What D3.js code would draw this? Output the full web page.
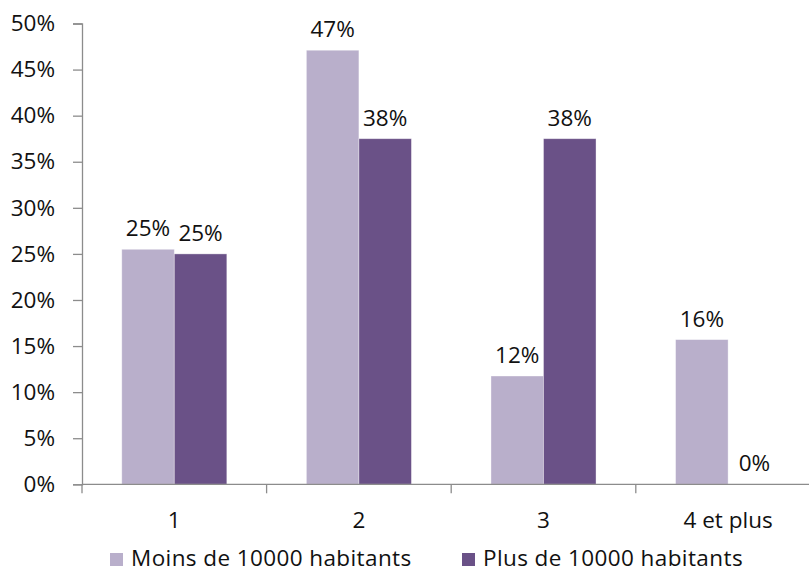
<!DOCTYPE html>
<html><head><meta charset="utf-8">
<script src="https://cdn.jsdelivr.net/npm/d3@7"></script>
<style>body{margin:0;background:#fff}svg{display:block}text{font-family:"Open Sans","Noto Sans",sans-serif;fill:#111}</style>
</head><body><svg id="c" width="809" height="573"></svg>
<script>
const categories = ["1", "2", "3", "4 et plus"];
const seriesNames = ["Moins de 10000 habitants", "Plus de 10000 habitants"];
const moins = [25.5, 47.1, 11.75, 15.7];
const plus = [25, 37.5, 37.5, 0];
const valueLabels = [["25%","47%","12%","16%"],["25%","38%","38%","0%"]];
const yTicks = [0,5,10,15,20,25,30,35,40,45,50];
const colors = ["#B9AFCB", "#6A5187"];
const FS = 22.5;

const svg = d3.select("#c");
const x0 = 82, x1 = 820.4, yTop = 23.5, yBot = 484.3;
const x = d3.scaleBand().domain(categories).range([x0, x1]);
const y = d3.scaleLinear().domain([0, 50]).range([yBot, yTop]);
const bw = x.bandwidth();
const xs = d3.scaleBand().domain([0,1]).range([bw*0.2155, bw*(1-0.2155)]);

const data = [moins, plus];
data.forEach((vals, s) => {
  svg.append("g").selectAll("rect").data(vals).join("rect")
    .attr("x", (d,i) => x(categories[i]) + xs(s))
    .attr("width", xs.bandwidth())
    .attr("y", d => y(d))
    .attr("height", d => yBot - y(d))
    .attr("fill", colors[s])
    .attr("stroke", "rgba(255,255,255,0.45)")
    .attr("stroke-width", 0.8);
  svg.append("g").selectAll("text").data(vals).join("text")
    .attr("x", (d,i) => x(categories[i]) + xs(s) + xs.bandwidth()/2)
    .attr("y", d => y(d) - 13)
    .attr("text-anchor", "middle")
    .attr("font-size", FS)
    .text((d,i) => valueLabels[s][i]);
});

const yAxis = d3.axisLeft(y).tickValues(yTicks).tickFormat(d => d + "%").tickSize(9).tickSizeOuter(9);
const gy = svg.append("g").attr("transform", `translate(${x0},0)`).call(yAxis);
gy.selectAll("path,line").attr("stroke", "#8c8c8c").attr("stroke-width", 1.3);
gy.selectAll("text").attr("font-size", FS).attr("x", -27).attr("fill", "#111").attr("font-family", "'Open Sans', sans-serif");

const xAxis = d3.axisBottom(x).tickSize(0).tickPadding(0);
const gx = svg.append("g").attr("transform", `translate(0,${yBot})`).call(xAxis);
gx.select("path").attr("stroke", "#8c8c8c").attr("stroke-width", 1.3).attr("d", `M${x0},0H${x1}`);
gx.selectAll("text").attr("font-size", FS).attr("dy", 0).attr("y", 44).attr("fill", "#111").attr("font-family", "'Open Sans', sans-serif");
svg.append("g").selectAll("line").data(categories.concat(["_end"])).join("line")
  .attr("x1", (d,i) => i < categories.length ? x(d) : x1)
  .attr("x2", (d,i) => i < categories.length ? x(d) : x1)
  .attr("y1", yBot).attr("y2", yBot + 9)
  .attr("stroke", "#8c8c8c").attr("stroke-width", 1.3);

const legendX = [110, 462];
seriesNames.forEach((n, i) => {
  const g = svg.append("g").attr("transform", `translate(${legendX[i]},553)`);
  g.append("rect").attr("width", 13).attr("height", 13).attr("fill", colors[i]);
  g.append("text").attr("x", 21).attr("y", 13).attr("font-size", FS).attr("letter-spacing", 0.4).text(n);
});
</script></body></html>
